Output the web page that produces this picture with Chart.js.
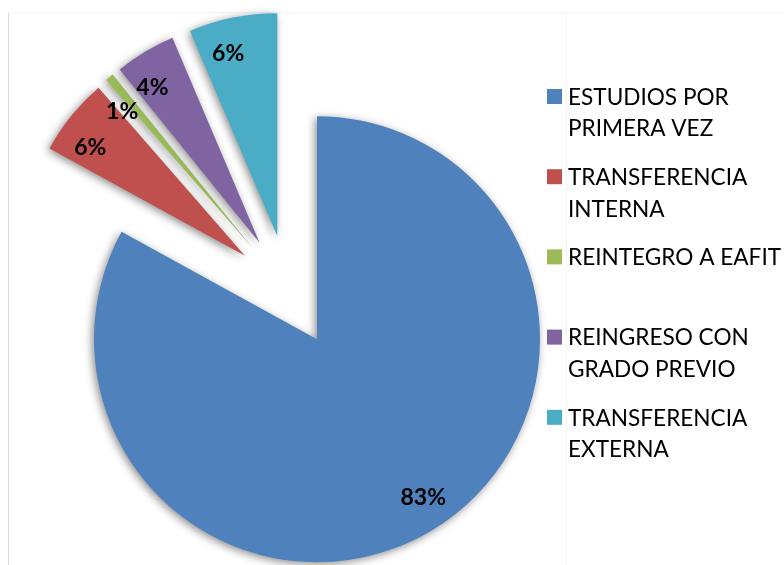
<!DOCTYPE html>
<html>
<head>
<meta charset="utf-8">
<script src="https://cdn.jsdelivr.net/npm/chart.js@4.4.1/dist/chart.umd.min.js"></script>
<style>
  html, body { margin: 0; padding: 0; background: #fff; }
  canvas { display: block; }
</style>
</head>
<body>
<canvas id="pieChart" width="784" height="565"></canvas>
<script>
const categories = [
  ["ESTUDIOS POR", "PRIMERA VEZ"],
  ["TRANSFERENCIA", "INTERNA"],
  ["REINTEGRO A EAFIT"],
  ["REINGRESO CON", "GRADO PREVIO"],
  ["TRANSFERENCIA", "EXTERNA"]
];
// shares in percent (labels show them rounded)
const percentages = [83.0, 5.6, 0.6, 4.4, 6.4];
const sliceColors = ["#4F81BD", "#C0504D", "#9BBB59", "#8064A2", "#4BACC6"];

const EXPLODE = 56;

// pull every slice out along its middle angle (excel style explode)
const explodePlugin = {
  id: "explode",
  afterDatasetUpdate(chart, args) {
    args.meta.data.forEach(arc => {
      if (arc._wrapped) return;
      const draw = Chart.ArcElement.prototype.draw.bind(arc);
      arc.draw = (ctx, area) => {
        const mid = (arc.startAngle + arc.endAngle) / 2;
        ctx.save();
        ctx.translate(Math.cos(mid) * EXPLODE, Math.sin(mid) * EXPLODE);
        ctx.shadowColor = "rgba(0,0,0,0.45)";
        ctx.shadowBlur = 8;
        ctx.shadowOffsetX = -2;
        ctx.shadowOffsetY = 2;
        draw(ctx, area);
        ctx.restore();
      };
      arc._wrapped = true;
    });
  }
};

// percentage labels near the outer edge of each slice
const labelPlugin = {
  id: "pctLabels",
  afterDatasetsDraw(chart) {
    const ctx = chart.ctx;
    const meta = chart.getDatasetMeta(0);
    const total = percentages.reduce((a, b) => a + b, 0);
    ctx.save();
    ctx.font = "bold 23px Lato";
    ctx.fillStyle = "#000";
    ctx.textAlign = "center";
    ctx.textBaseline = "middle";
    meta.data.forEach((arc, i) => {
      const mid = (arc.startAngle + arc.endAngle) / 2;
      const a = mid - 3.5 * Math.PI / 180;
      const r = arc.outerRadius * 0.85;
      const x = arc.x + Math.cos(mid) * EXPLODE + Math.cos(a) * r;
      const y = arc.y + Math.sin(mid) * EXPLODE + Math.sin(a) * r;
      const txt = Math.round(percentages[i] / total * 100) + "%";
      ctx.fillText(txt, x, y + 1);
    });
    ctx.restore();
  }
};

// legend on the right, with wrapped names
const legendPlugin = {
  id: "sideLegend",
  afterDraw(chart) {
    const ctx = chart.ctx;
    ctx.save();
    ctx.font = "22.6px Lato";
    ctx.textBaseline = "middle";
    categories.forEach((lines, i) => {
      const y = 96.5 + i * 80.2;
      ctx.fillStyle = sliceColors[i];
      ctx.fillRect(547, y - 7.5, 15, 15);
      ctx.fillStyle = "#000";
      lines.forEach((t, j) => ctx.fillText(t, 568, y + j * 31.7 + 1));
    });
    ctx.restore();
  }
};

// faint frame lines of the original chart box
const framePlugin = {
  id: "frame",
  beforeDraw(chart) {
    const ctx = chart.ctx;
    ctx.save();
    ctx.lineWidth = 1;
    ctx.strokeStyle = "#d9d9d9";
    ctx.beginPath();
    ctx.moveTo(8.5, 13);
    ctx.lineTo(8.5, 565);
    ctx.stroke();
    ctx.strokeStyle = "#f4f4f4";
    ctx.beginPath();
    ctx.moveTo(9, 12.5);
    ctx.lineTo(784, 12.5);
    ctx.moveTo(566.5, 13);
    ctx.lineTo(566.5, 565);
    ctx.stroke();
    ctx.restore();
  }
};

new Chart(document.getElementById("pieChart"), {
  type: "pie",
  data: {
    labels: categories.map(l => l.join(" ")),
    datasets: [{
      data: percentages,
      backgroundColor: sliceColors,
      borderWidth: 0
    }]
  },
  options: {
    responsive: false,
    animation: false,
    layout: { padding: { left: 65.5, right: 272.5, top: 68, bottom: 51 } },
    plugins: {
      legend: { display: false },
      tooltip: { enabled: false }
    }
  },
  plugins: [framePlugin, explodePlugin, labelPlugin, legendPlugin]
});
</script>
</body>
</html>
